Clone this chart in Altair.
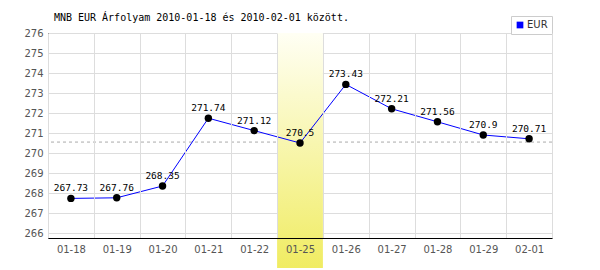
import altair as alt
import pandas as pd

dates = ["01-18", "01-19", "01-20", "01-21", "01-22", "01-25", "01-26", "01-27", "01-28", "01-29", "02-01"]
rates = [267.73, 267.76, 268.35, 271.74, 271.12, 270.5, 273.43, 272.21, 271.56, 270.9, 270.71]
labels = ["267.73", "267.76", "268.35", "271.74", "271.12", "270.5", "273.43", "272.21", "271.56", "270.9", "270.71"]
highlight_day = ["01-25"]
y_ticks = list(range(266, 277))
series = ["EUR"]

df = pd.DataFrame({"date": dates, "rate": rates, "label": labels, "series": series * len(dates)})
avg_df = pd.DataFrame({"avg": [sum(rates) / len(rates)]})
hl_df = pd.DataFrame({"date": highlight_day})

xscale = alt.Scale(domain=dates, paddingInner=0, paddingOuter=0)
yscale = alt.Scale(domain=[265.75, 276], nice=False, zero=False)

xaxis = alt.Axis(title=None, ticks=False, tickBand="extent", grid=True, gridColor="#dddddd",
                 domainColor="black", labelColor="#555555", labelFont="DejaVu Sans", labelFontSize=10,
                 labelPadding=6, zindex=1, labelAngle=0)
yaxis = alt.Axis(title=None, ticks=False, values=y_ticks, grid=True, gridColor="#dddddd",
                 domainColor="black", labelColor="#555555", labelFont="DejaVu Sans", labelFontSize=10,
                 labelPadding=5)

base = alt.Chart(df)

grad = alt.LinearGradient(gradient="linear",
                          stops=[alt.GradientStop(color="#fffff4", offset=0),
                                 alt.GradientStop(color="#f0ec62", offset=1)],
                          x1=0, x2=0, y1=0, y2=1)

band = alt.Chart(hl_df).mark_rect(fill=grad, clip=False).encode(
    x=alt.X("date:N", scale=xscale, axis=xaxis),
    y=alt.value(0), y2=alt.value(235))

avg = alt.Chart(avg_df).mark_rule(color="#aaaaaa", strokeDash=[3, 3], strokeWidth=1).encode(
    y=alt.Y("avg:Q", scale=yscale, axis=yaxis))

line = base.mark_line(strokeWidth=1).encode(
    x=alt.X("date:N", scale=xscale, axis=xaxis),
    y=alt.Y("rate:Q", scale=yscale, axis=yaxis),
    color=alt.Color("series:N", scale=alt.Scale(domain=series, range=["#0000ff"]),
                    legend=alt.Legend(title=None, orient="none", legendX=463, legendY=-17,
                                      symbolType="square", symbolSize=45, symbolStrokeWidth=0,
                                      symbolFillColor="#0000ff", strokeColor="#cccccc",
                                      fillColor="white", padding=4, labelFont="DejaVu Sans",
                                      labelFontSize=10, labelColor="#333333", labelOffset=2)))

pts = base.mark_circle(size=55, color="black", opacity=1).encode(
    x=alt.X("date:N", scale=xscale, axis=xaxis),
    y=alt.Y("rate:Q", scale=yscale, axis=yaxis))

txt = base.mark_text(font="DejaVu Sans Mono", fontSize=9.5, color="black", dy=-10).encode(
    x=alt.X("date:N", scale=xscale, axis=xaxis),
    y=alt.Y("rate:Q", scale=yscale, axis=yaxis),
    text="label:N")

chart = alt.layer(avg, band, line, pts, txt).properties(
    width=504, height=205,
    autosize=alt.AutoSizeParams(type="none"),
    padding={"left": 48, "top": 33, "right": 48, "bottom": 32},
    title=alt.TitleParams("MNB EUR Árfolyam 2010-01-18 és 2010-02-01 között.", anchor="start",
                          font="DejaVu Sans Mono", fontSize=10, fontWeight="normal", color="black",
                          dx=30, dy=18, offset=11),
).configure_view(stroke=None).configure(background="white")

chart.save("out.html", embed_options={"renderer": "svg", "actions": False})
